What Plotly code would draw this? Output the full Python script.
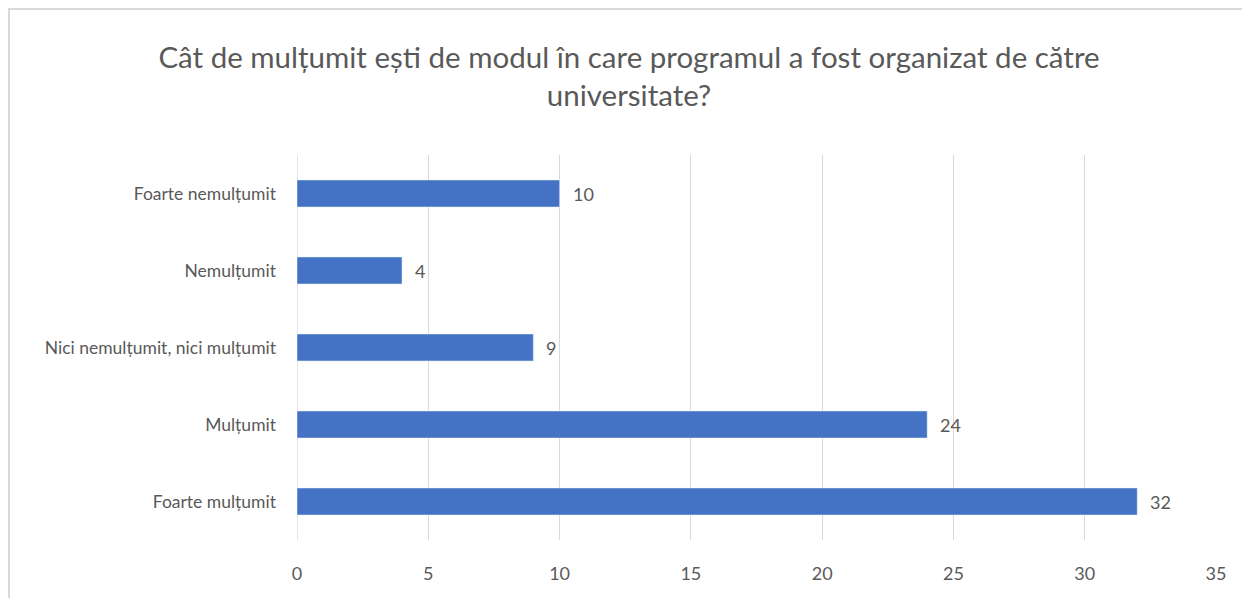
import plotly.graph_objects as go

categories = ["Foarte mulțumit", "Mulțumit", "Nici nemulțumit, nici mulțumit", "Nemulțumit", "Foarte nemulțumit"]
values = [32, 24, 9, 4, 10]
tick_vals = [0, 5, 10, 15, 20, 25, 30, 35]

FONT = "Lato, 'Open Sans', sans-serif"
TXT = "#595959"

W, H = 1242, 592
L, R, T, B = 289, 34, 147, 60
PW, PH = W - L - R, H - T - B

fig = go.Figure(go.Bar(
    x=values, y=categories, orientation="h",
    marker=dict(color="#4472C4"),
))

for c, v in zip(categories, values):
    fig.add_annotation(x=v, y=c, text=str(v), showarrow=False, xanchor="left", xshift=11,
                       font=dict(family=FONT, size=18, color=TXT))

fig.update_layout(
    width=W, height=H,
    margin=dict(l=L, r=R, t=T, b=B),
    paper_bgcolor="white", plot_bgcolor="white",
    bargap=0.65,
    showlegend=False,
    title=dict(
        text="Cât de mulțumit ești de modul în care programul a fost organizat de către<br>universitate?",
        x=0.5, xanchor="center", y=1 - 60 / H, yanchor="middle",
        font=dict(family=FONT, size=29.5, color=TXT),
    ),
    xaxis=dict(
        range=[0, 35], tickvals=tick_vals, showgrid=True, gridcolor="#D9D9D9", gridwidth=1.3,
        zeroline=False, showline=False, ticks="", ticklabelstandoff=21,
        tickfont=dict(family=FONT, size=18, color=TXT),
    ),
    yaxis=dict(
        showgrid=False, zeroline=False, showline=False, ticks="",
        tickfont=dict(family=FONT, size=17.5, color=TXT), ticklabelstandoff=20,
    ),
    shapes=[
        dict(type="line", xref="x", yref="paper", x0=0, x1=0, y0=0, y1=1,
             line=dict(color="#D9D9D9", width=1.3), layer="below"),
        dict(type="rect", xref="paper", yref="paper", x0=-(L - 1) / PW, x1=1 + (R - 1) / PW,
             y0=-(B + 10) / PH, y1=1 + (T - 1) / PH, line=dict(color="#D9D9D9", width=2)),
    ],
)

fig.write_html("out.html")
